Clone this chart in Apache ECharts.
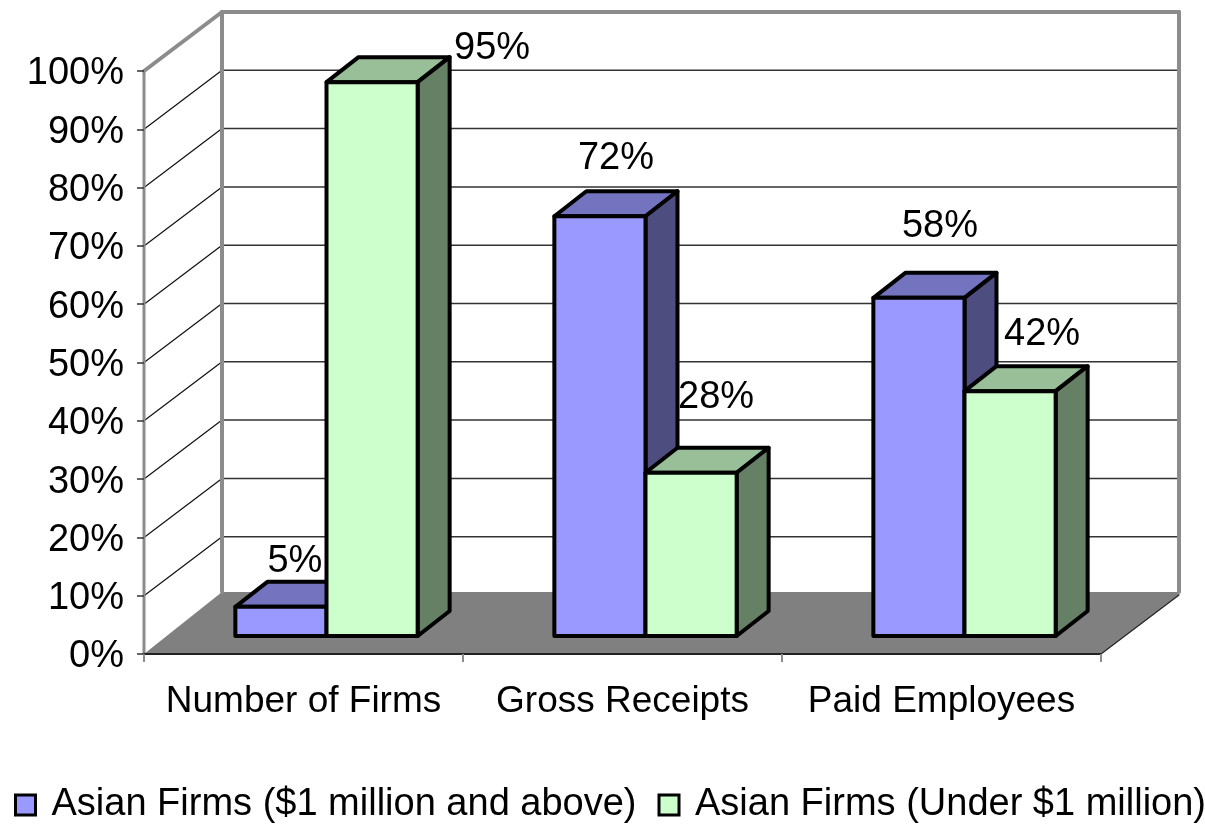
<!DOCTYPE html>
<html>
<head>
<meta charset="utf-8">
<style>html,body{margin:0;padding:0;background:#fff}#c{width:1205px;height:827px}</style>
<script src="https://cdn.jsdelivr.net/npm/echarts@6/dist/echarts.min.js"></script>
</head>
<body>
<div id="c"></div>
<script>
const categories = ['Number of Firms', 'Gross Receipts', 'Paid Employees'];
const seriesNames = ['Asian Firms ($1 million and above)', 'Asian Firms (Under $1 million)'];
const above1m = [5, 72, 58];
const under1m = [95, 28, 42];
const yTicks = [100, 90, 80, 70, 60, 50, 40, 30, 20, 10, 0];

// hand-placed data label shifts from the top-centre of each bar's front face
const aboveLabelShift = [[14, -45], [16, -58], [21, -71]];
const underLabelShift = [[120, -34], [25, -75], [32, -57]];

const FONT = '"Liberation Sans", Arial, sans-serif';
const WALL = [78, -59];      // chart depth
const BAR_FRONT = [23, -18]; // bar front plane relative to chart front plane
const BAR_DEPTH = [32, -25];
const GRAY = '#8c8c8c';

function poly(points, fill, stroke, lw) {
  return {
    type: 'polygon',
    shape: { points },
    style: { fill, stroke: stroke || 'none', lineWidth: lw || 0, lineJoin: 'round' }
  };
}
function seg(a, b, stroke, lw) {
  return {
    type: 'line',
    shape: { x1: a[0], y1: a[1], x2: b[0], y2: b[1] },
    style: { stroke, lineWidth: lw, lineCap: 'round' }
  };
}

function renderWalls(params, api) {
  const cs = params.coordSys;
  const y = api.coord([0, api.value(0)])[1];
  const L = cs.x, R = cs.x + cs.width;
  const children = [];
  const v = api.value(0);
  const bL = [L + WALL[0], y + WALL[1]];
  const bR = [R + WALL[0], y + WALL[1]];
  if (v === 0) {
    const top = cs.y;
    children.push(poly([[L, y], [bL[0], bL[1] - 3], [bR[0], bR[1] - 3], bR, [R, y]], '#808080'));
    children.push(seg([R, y], bR, '#222', 1.2));
    children.push(seg([bL[0], bL[1] - 3], [L + WALL[0], top + WALL[1]], GRAY, 4));
    children.push(seg([bR[0], bR[1] - 3], [R + WALL[0], top + WALL[1]], GRAY, 4));
    children.push(seg([L, y], [L, top], GRAY, 3));
  } else if (v === 100) {
    children.push(seg([L, y], bL, GRAY, 4));
    children.push(seg(bL, bR, GRAY, 4));
  } else {
    children.push(seg([L, y], bL, '#111', 1.2));
    children.push(seg(bL, bR, '#333', 1.5));
  }
  return { type: 'group', children };
}

function barRenderer(seriesIdx, values, shifts, front, top, side) {
  return function (params, api) {
    const i = api.value(0);
    const val = api.value(1);
    const base = api.coord([i, 0]);
    const head = api.coord([i, val]);
    const w = api.size([1, 0])[0] / 3.5;
    const x0 = base[0] + BAR_FRONT[0] + (seriesIdx === 0 ? -w : 0);
    const x1 = x0 + w;
    const yb = base[1] + BAR_FRONT[1];
    const yt = head[1] + BAR_FRONT[1];
    const dx = BAR_DEPTH[0], dy = BAR_DEPTH[1];
    const lw = 4;
    const shift = shifts[params.dataIndex];
    return {
      type: 'group',
      children: [
        poly([[x0, yt], [x0 + dx, yt + dy], [x1 + dx, yt + dy], [x1, yt]], top, '#000', lw),
        poly([[x1, yt], [x1 + dx, yt + dy], [x1 + dx, yb + dy], [x1, yb]], side, '#000', lw),
        poly([[x0, yt], [x1, yt], [x1, yb], [x0, yb]], front, '#000', lw),
        {
          type: 'text',
          style: {
            text: values[params.dataIndex] + '%',
            x: (x0 + x1) / 2 + shift[0],
            y: yt + shift[1],
            textAlign: 'center',
            textVerticalAlign: 'middle',
            fontFamily: FONT,
            fontSize: 38,
            fill: '#000'
          }
        }
      ]
    };
  };
}

const chart = echarts.init(document.getElementById('c'), null, { renderer: 'canvas' });
chart.setOption({
  animation: false,
  backgroundColor: '#fff',
  textStyle: { fontFamily: FONT },
  grid: { left: 144, top: 71, width: 957, height: 583, containLabel: false, outerBoundsMode: 'none' },
  xAxis: {
    type: 'category',
    data: categories,
    axisLine: { show: true, lineStyle: { color: '#222', width: 2 } },
    axisTick: { show: true, length: 8, lineStyle: { color: GRAY, width: 2 } },
    axisLabel: { color: '#000', fontSize: 37, fontFamily: FONT, margin: 29, interval: 0 },
    z: 3
  },
  yAxis: {
    type: 'value',
    min: 0,
    max: 100,
    interval: 10,
    splitLine: { show: false },
    axisLine: { show: false },
    axisTick: { show: true, length: 7, lineStyle: { color: '#333', width: 1.5 } },
    axisLabel: {
      color: '#000', fontSize: 38, fontFamily: FONT, margin: 20,
      formatter: '{t|{value}%}',
      rich: { t: { color: '#000', fontSize: 38, fontFamily: FONT, padding: [6, 0, 0, 0] } }
    },
    z: 3
  },
  legend: {
    left: 9,
    top: 781,
    width: 1400,
    data: seriesNames,
    itemWidth: 20,
    itemHeight: 20,
    itemGap: 21,
    icon: 'rect',
    selectedMode: false,
    textStyle: { color: '#000', fontSize: 38, fontFamily: FONT, padding: [0, 0, 0, 11] },
    itemStyle: { borderColor: '#000', borderWidth: 3 }
  },
  series: [
    {
      type: 'custom',
      name: 'walls',
      silent: true,
      z: 1,
      encode: { y: 0 },
      data: yTicks.map(v => [v]),
      renderItem: renderWalls
    },
    {
      type: 'custom',
      name: seriesNames[0],
      z: 2,
      itemStyle: { color: '#9999FF' },
      encode: { x: 0, y: 1 },
      data: above1m.map((v, i) => [i, v]),
      renderItem: barRenderer(0, above1m, aboveLabelShift, '#9999FF', '#7373BF', '#4D4D80')
    },
    {
      type: 'custom',
      name: seriesNames[1],
      z: 2,
      itemStyle: { color: '#CCFFCC' },
      encode: { x: 0, y: 1 },
      data: under1m.map((v, i) => [i, v]),
      renderItem: barRenderer(1, under1m, underLabelShift, '#CCFFCC', '#99BF99', '#668066')
    }
  ]
});
</script>
</body>
</html>
